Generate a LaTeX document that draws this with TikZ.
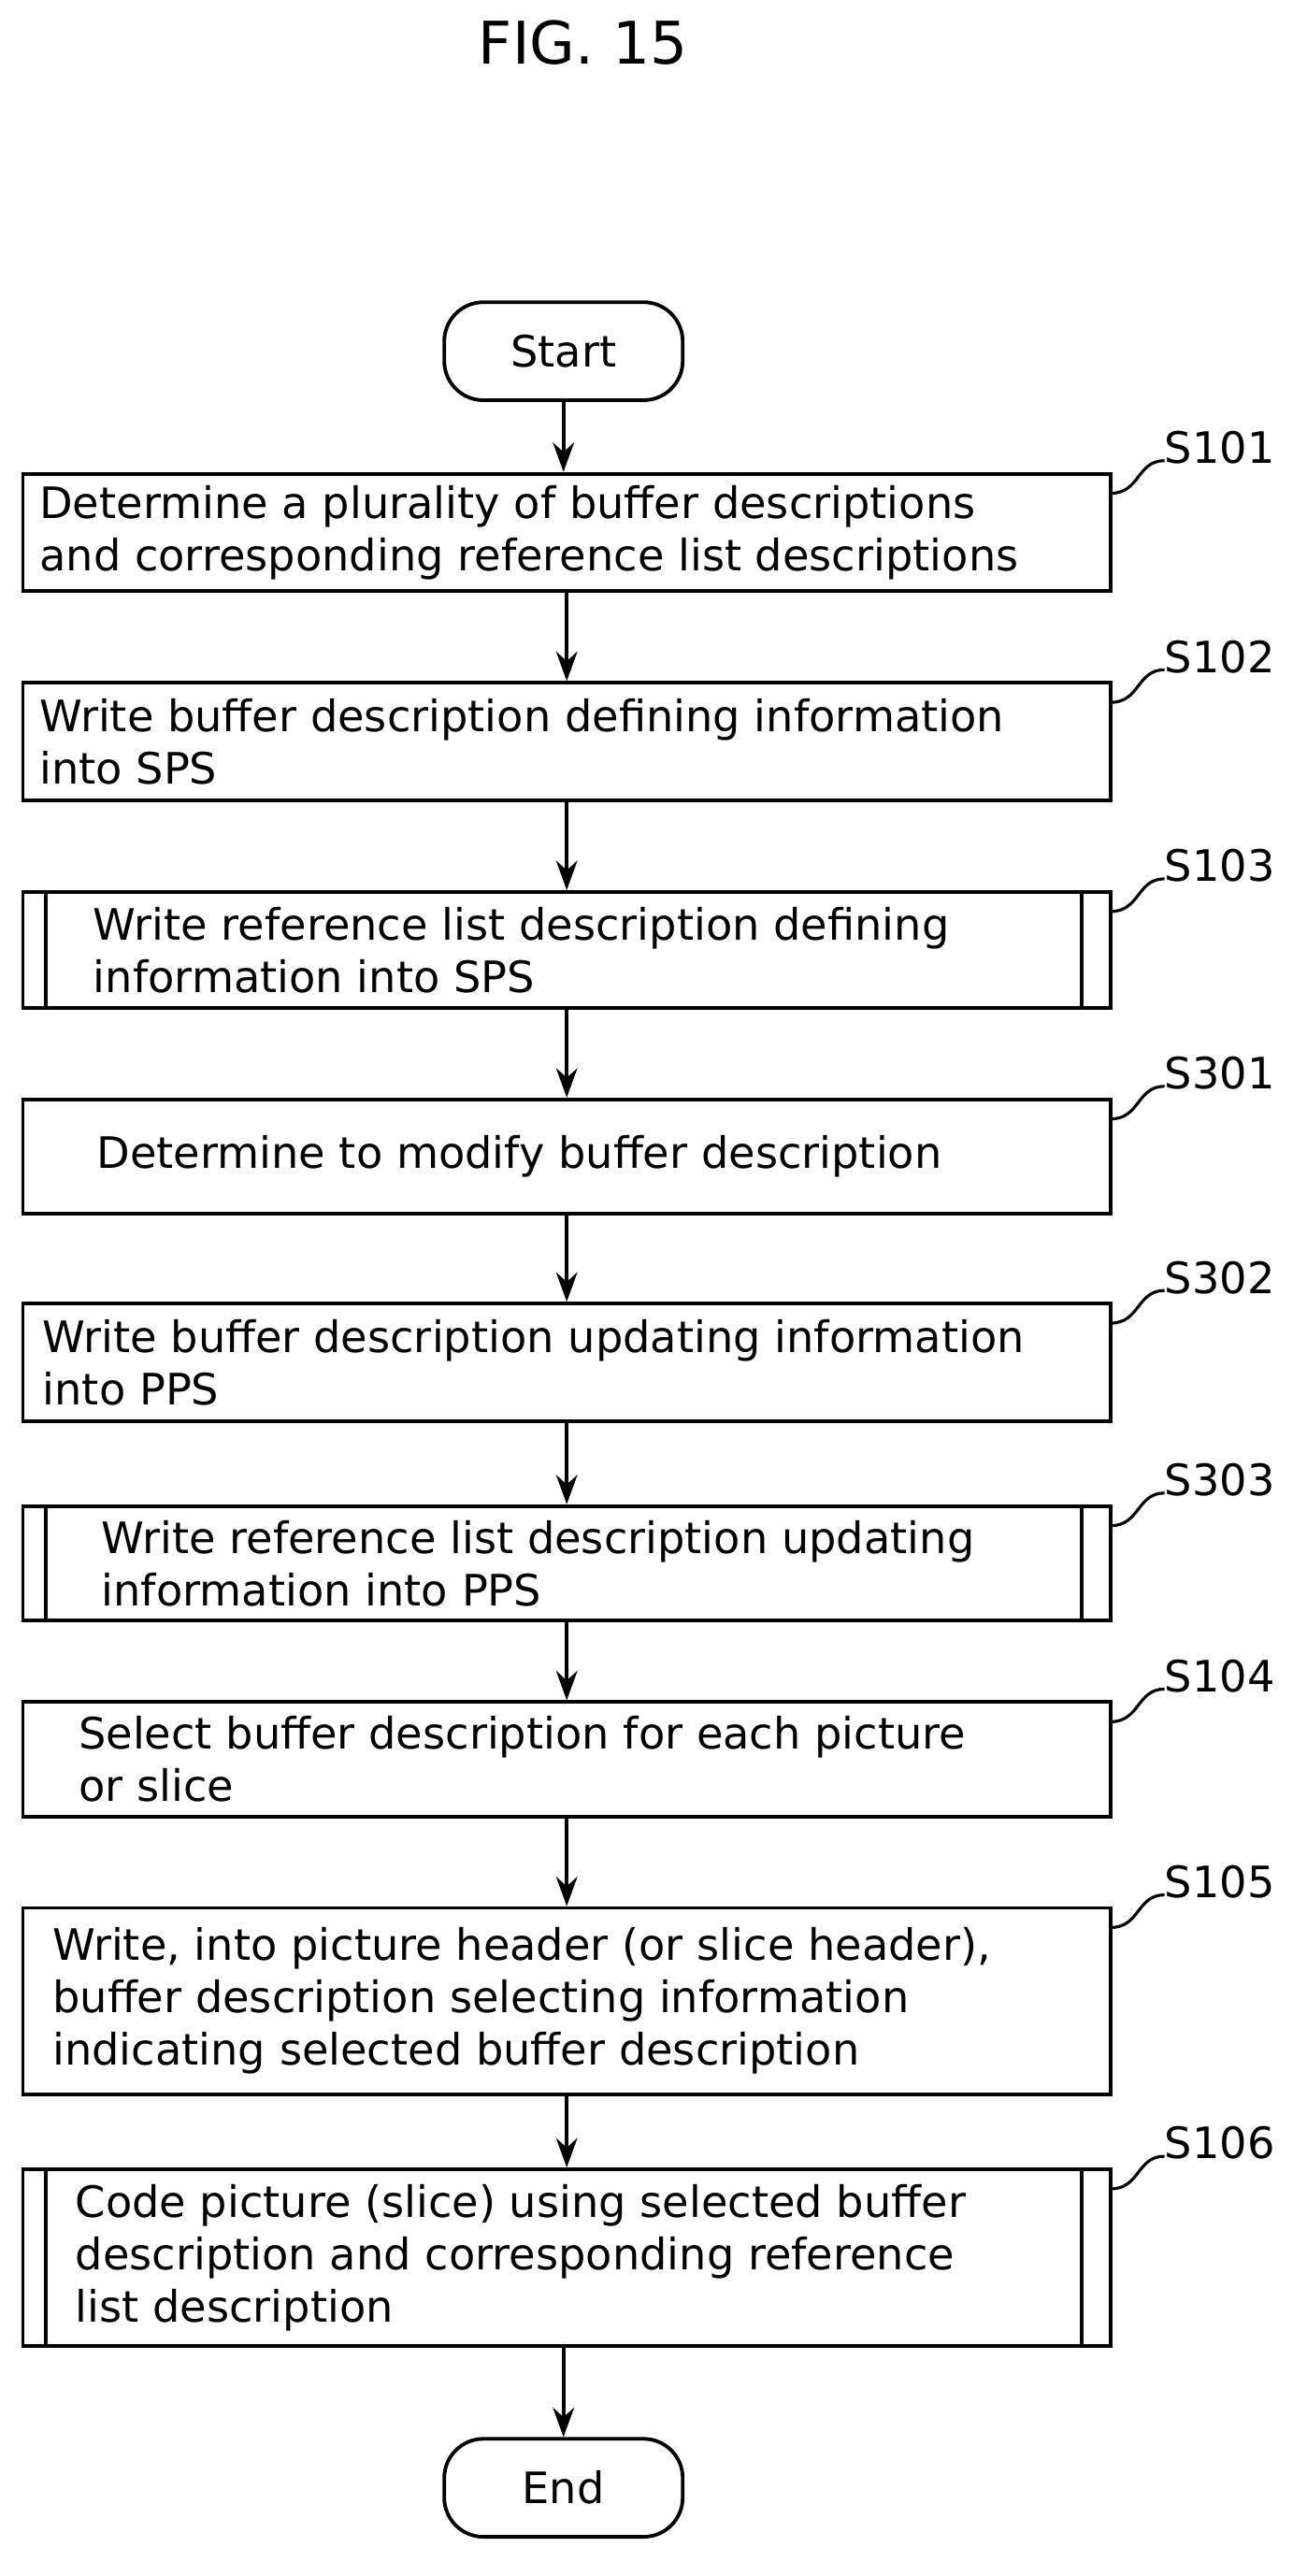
\documentclass[tikz,border=0pt]{standalone}
\usepackage{fontspec}
\setmainfont{DejaVu Sans}
\usetikzlibrary{fit,arrows.meta}
\begin{document}
\begin{tikzpicture}[x=1pt,y=-1pt,
 box/.style={draw,line width=2.2pt,inner sep=0pt},
 term/.style={draw,line width=2.2pt,rounded corners=24pt,minimum width=146pt,minimum height=60pt,font=\fontsize{26.5}{31}\selectfont},
 txt/.style={anchor=west,align=left,inner sep=0pt,font=\fontsize{26.5}{32}\selectfont},
 lab/.style={font=\fontsize{26.5}{31}\selectfont,anchor=west,inner sep=0pt},
 arr/.style={-{Stealth[length=18pt,width=13pt]},line width=2.2pt}]
\useasboundingbox (0,0) rectangle (800,1577);
\node[font=\fontsize{36}{42}\selectfont] (title) at (357,26) {FIG. 15};
\node[term] (start) at (345,215) {Start};
\node[term] (end) at (345,1523) {End};
\def\mkbox#1#2#3#4#5#6{%
 \path (14,#2) coordinate (#1a) (680,#3) coordinate (#1b);
 \node[box,fit=(#1a)(#1b)] (#1) {};
 \node[txt] (#1t) at (#4,{(#2+#3)/2}) {#5};
 \draw[line width=1.8pt] (680,{#2+12}) .. controls (698,{#2+12}) and (696,{#2-8}) .. (713,{#2-8}) coordinate (#1c);
 \node[lab] (#1l) at (713,{#2-16}) {#6};}
\mkbox{s101}{290}{362}{24}{Determine a plurality of buffer descriptions\\and corresponding reference list descriptions}{S101}
\mkbox{s102}{418}{490}{24}{Write buffer description defining information\\into SPS}{S102}
\mkbox{s103}{546}{617}{57}{Write reference list description defining\\information into SPS}{S103}
\mkbox{s301}{673}{743}{59}{Determine to modify buffer description}{S301}
\mkbox{s302}{798}{870}{26}{Write buffer description updating information\\into PPS}{S302}
\mkbox{s303}{922}{992}{62}{Write reference list description updating\\information into PPS}{S303}
\mkbox{s104}{1042}{1112}{48}{Select buffer description for each picture\\or slice}{S104}
\mkbox{s105}{1168}{1282}{32}{Write, into picture header (or slice header),\\buffer description selecting information\\indicating selected buffer description}{S105}
\mkbox{s106}{1328}{1436}{46}{Code picture (slice) using selected buffer\\description and corresponding reference\\list description}{S106}
\foreach \b in {s103,s303,s106}{
 \draw[line width=2.2pt] ([xshift=15pt]\b.north west) -- ([xshift=15pt]\b.south west);
 \draw[line width=2.2pt] ([xshift=-19pt]\b.north east) -- ([xshift=-19pt]\b.south east);}
\draw[arr] (start) -- (start|-s101.north);
\draw[arr] (s101) -- (s102);
\draw[arr] (s102) -- (s103);
\draw[arr] (s103) -- (s301);
\draw[arr] (s301) -- (s302);
\draw[arr] (s302) -- (s303);
\draw[arr] (s303) -- (s104);
\draw[arr] (s104) -- (s105);
\draw[arr] (s105) -- (s106);
\draw[arr] (s106.south-|end) -- (end);
\end{tikzpicture}
\end{document}
